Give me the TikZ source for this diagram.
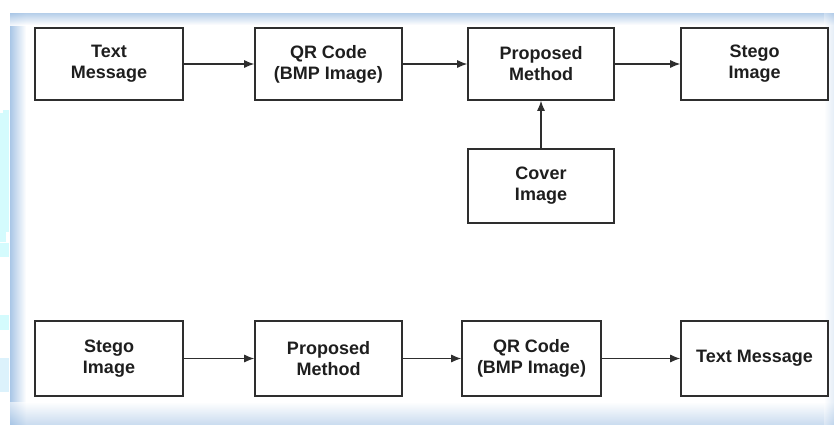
\documentclass[tikz,border=0pt]{standalone}
\usepackage{fontspec}
\setmainfont{Liberation Sans}
\usetikzlibrary{arrows.meta}
\definecolor{edgeblue}{HTML}{A9C6E6}
\definecolor{sidecyan}{HTML}{D4FBFD}
\definecolor{sidelight}{HTML}{DCF2FC}
\definecolor{boxline}{HTML}{2E2E2E}
\definecolor{txt}{HTML}{1E1E1E}
\tikzset{
  stagebox/.style={draw=boxline, line width=1.6pt, fill=white, inner sep=0pt,
    align=center, text=txt,
    font=\fontsize{18}{21}\selectfont\bfseries},
  flow/.style={draw=boxline, line width=1.1pt, -{Latex[length=10pt,width=8pt]}},
}
\begin{document}
\begin{tikzpicture}[x=1pt,y=-1pt]
\useasboundingbox (0,0) rectangle (834,424);
% cyan strips beside the panel
\fill[sidecyan] (0,113) rectangle (9,232);
\fill[sidecyan] (3,110) rectangle (9,113);
\fill[sidecyan] (0,232) rectangle (6,242);
\fill[sidecyan] (0,243) rectangle (9,257);
\fill[sidecyan] (0,315) rectangle (9,330);
\fill[sidelight] (0,358) rectangle (9,392);
% panel with soft blue edges
\fill[white] (10,13) rectangle (834,424);
\shade[left color=edgeblue, right color=white] (10,13) rectangle (26,424);
\shade[top color=edgeblue, bottom color=white, opacity=0.85] (10,13) rectangle (834,25);
\shade[top color=white, bottom color=edgeblue, opacity=0.6] (10,402) rectangle (834,424);
\shade[left color=white, right color=edgeblue, opacity=0.3] (824,13) rectangle (834,424);
% encoding chain
\node[stagebox, minimum width=148, minimum height=72] (msg1) at (109,64) {Text\\Message};
\node[stagebox, minimum width=147, minimum height=72] (qr1) at (328.5,64) {QR Code\\(BMP Image)};
\node[stagebox, minimum width=146, minimum height=72] (pm1) at (541,64) {Proposed\\Method};
\node[stagebox, minimum width=147, minimum height=72] (st1) at (754.5,64) {Stego\\Image};
\node[stagebox, minimum width=146, minimum height=74] (cov) at (541,186) {Cover\\Image};
% decoding chain
\node[stagebox, minimum width=148, minimum height=75] (st2) at (109,358.5) {Stego\\Image};
\node[stagebox, minimum width=147, minimum height=75] (pm2) at (328.5,358.5) {Proposed\\Method};
\node[stagebox, minimum width=139, minimum height=75] (qr2) at (531.5,358.5) {QR Code\\(BMP Image)};
\node[stagebox, minimum width=147, minimum height=75] (msg2) at (754.5,358.5) {Text Message};
% connectors
\draw[flow] (msg1) -- (qr1);
\draw[flow] (qr1) -- (pm1);
\draw[flow] (pm1) -- (st1);
\draw[flow] (cov) -- (pm1);
\draw[flow] (st2) -- (pm2);
\draw[flow] (pm2) -- (qr2);
\draw[flow] (qr2) -- (msg2);
\end{tikzpicture}
\end{document}
